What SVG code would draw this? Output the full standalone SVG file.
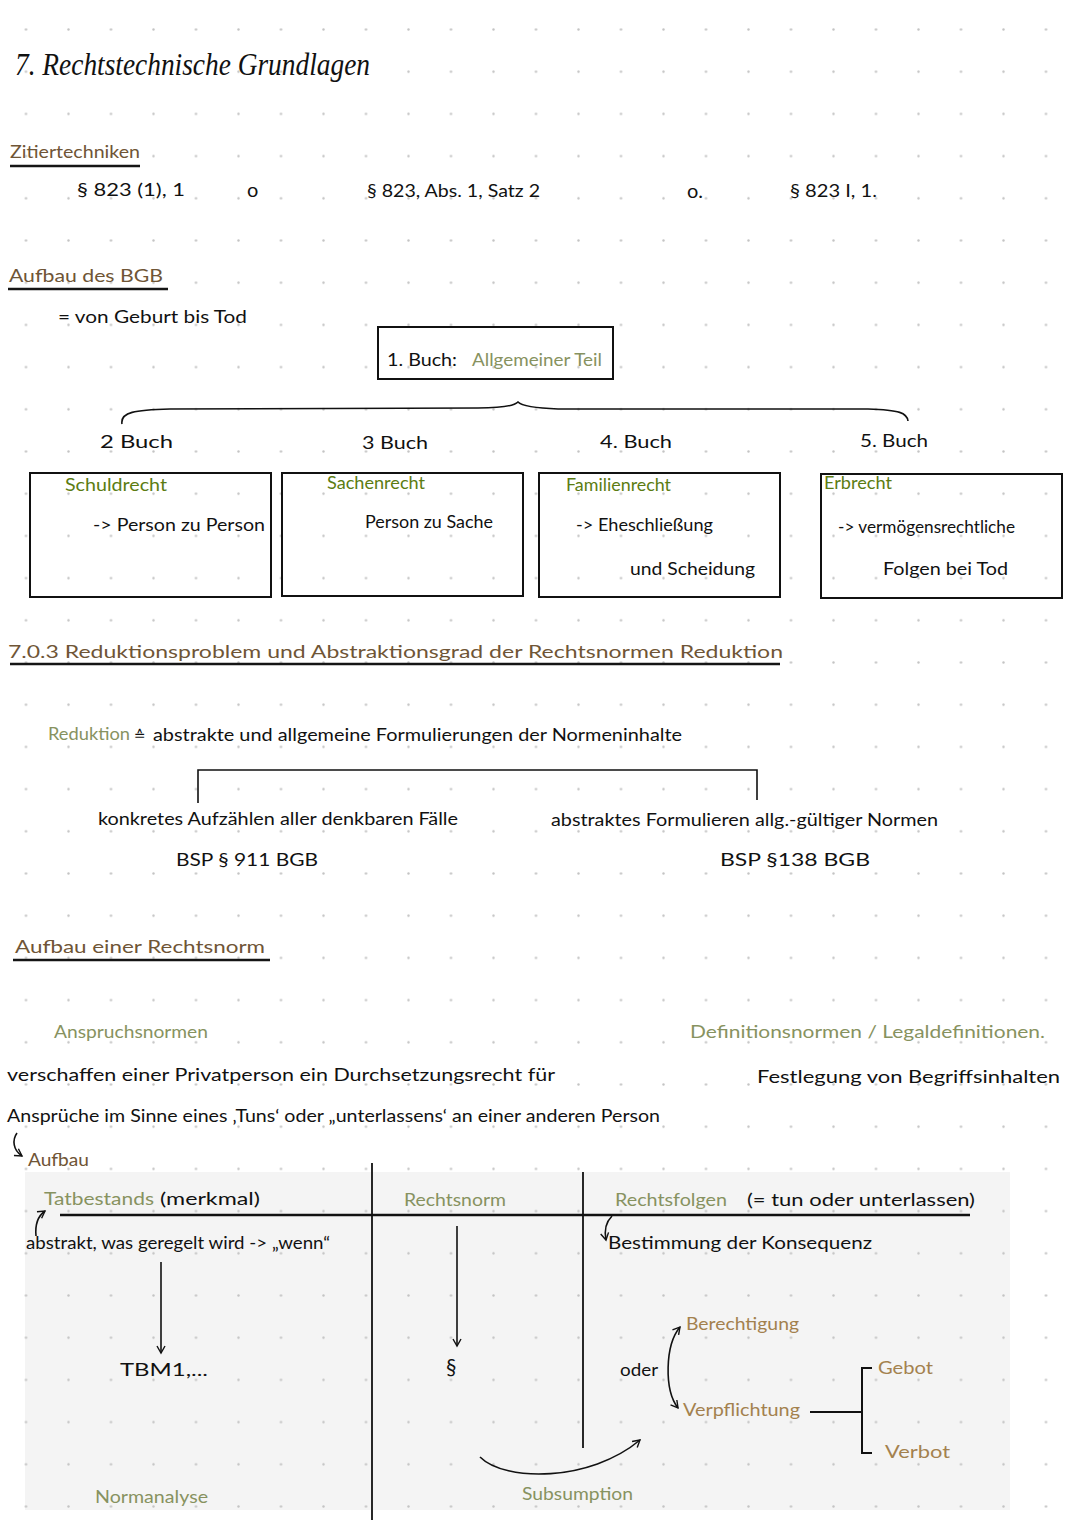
<svg xmlns="http://www.w3.org/2000/svg" width="1080" height="1531" viewBox="0 0 1080 1531">
<defs>
<pattern id="dots" patternUnits="userSpaceOnUse" x="4.75" y="8.4" width="42.5" height="42.2">
<circle cx="21.25" cy="21.1" r="1.2" fill="#c4c4c4"/>
</pattern>
<marker id="arr" markerWidth="10" markerHeight="10" refX="8" refY="5" orient="auto" markerUnits="userSpaceOnUse">
<path d="M1,1 L8,5 L1,9" fill="none" stroke="#111" stroke-width="1.4"/>
</marker>
<marker id="arrs" markerWidth="10" markerHeight="10" refX="1" refY="5" orient="auto" markerUnits="userSpaceOnUse">
<path d="M8,1 L1,5 L8,9" fill="none" stroke="#111" stroke-width="1.4"/>
</marker>
</defs>
<style>
text{font-family:Lato,"Open Sans","Liberation Sans",sans-serif;font-size:17px;fill:#111}
.h{fill:#6f5536}
.g{fill:#5c7c12}
.o{fill:#879260}
.t{fill:#a3814e}
.box{fill:none;stroke:#111;stroke-width:2}
.ln{fill:none;stroke:#111;stroke-width:1.6}
.ul{fill:none;stroke:#151515;stroke-width:2.6}
.title{font-family:"Liberation Serif","DejaVu Serif",serif;font-style:italic;font-size:32px}
</style>
<rect width="1080" height="1531" fill="#ffffff"/>
<rect x="25" y="1172" width="985" height="338" fill="#f4f4f4"/>
<rect width="1080" height="1531" fill="url(#dots)"/>

<g id="title"><text class="title" x="15" y="75" textLength="355" lengthAdjust="spacingAndGlyphs">7. Rechtstechnische Grundlagen</text></g>

<g id="zitiertechniken">
<text class="h" x="10" y="158" textLength="130" lengthAdjust="spacingAndGlyphs">Zitiertechniken</text>
<line class="ul" x1="10" y1="166" x2="140" y2="166"/>
<text x="77" y="196" textLength="108" lengthAdjust="spacingAndGlyphs">§ 823 (1), 1</text>
<text x="247" y="197" style="font-size:20px">o</text>
<text x="367" y="197" textLength="173" lengthAdjust="spacingAndGlyphs">§ 823, Abs. 1, Satz 2</text>
<text x="687" y="198" style="font-size:20px">o.</text>
<text x="790" y="197" textLength="87" lengthAdjust="spacingAndGlyphs">§ 823 I, 1.</text>
</g>

<g id="aufbau-bgb">
<text class="h" x="9" y="282" textLength="154" lengthAdjust="spacingAndGlyphs">Aufbau des BGB</text>
<line class="ul" x1="8" y1="289" x2="168" y2="289"/>
<text x="58" y="323" textLength="189" lengthAdjust="spacingAndGlyphs">= von Geburt bis Tod</text>
</g>

<g id="buch1">
<rect class="box" x="378" y="327" width="235" height="52"/>
<text x="387" y="366" textLength="70" lengthAdjust="spacingAndGlyphs">1. Buch:</text>
<text x="472" y="366" class="o" textLength="130" lengthAdjust="spacingAndGlyphs">Allgemeiner Teil</text>
</g>

<g id="buch2">
<text x="100" y="448" textLength="73" lengthAdjust="spacingAndGlyphs">2 Buch</text>
<rect class="box" x="30" y="473" width="241" height="124"/>
<text class="g" x="65" y="491" textLength="102" lengthAdjust="spacingAndGlyphs">Schuldrecht</text>
<text x="93" y="531" textLength="172" lengthAdjust="spacingAndGlyphs">-&gt; Person zu Person</text>
</g>
<g id="buch3">
<text x="362" y="449" textLength="66" lengthAdjust="spacingAndGlyphs">3 Buch</text>
<rect class="box" x="282" y="473" width="241" height="123"/>
<text class="g" x="327" y="489" textLength="98" lengthAdjust="spacingAndGlyphs">Sachenrecht</text>
<text x="365" y="528" textLength="128" lengthAdjust="spacingAndGlyphs">Person zu Sache</text>
</g>
<g id="buch4">
<text x="600" y="448" textLength="72" lengthAdjust="spacingAndGlyphs">4. Buch</text>
<rect class="box" x="539" y="473" width="241" height="124"/>
<text class="g" x="566" y="491" textLength="105" lengthAdjust="spacingAndGlyphs">Familienrecht</text>
<text x="576" y="531" textLength="137" lengthAdjust="spacingAndGlyphs">-&gt; Eheschließung</text>
<text x="630" y="575" textLength="125" lengthAdjust="spacingAndGlyphs">und Scheidung</text>
</g>
<g id="buch5">
<text x="860" y="447" textLength="68" lengthAdjust="spacingAndGlyphs">5. Buch</text>
<rect class="box" x="821" y="474" width="241" height="124"/>
<text class="g" x="824" y="489" textLength="68" lengthAdjust="spacingAndGlyphs">Erbrecht</text>
<text x="838" y="533" textLength="177" lengthAdjust="spacingAndGlyphs">-&gt; vermögensrechtliche</text>
<text x="883" y="575" textLength="125" lengthAdjust="spacingAndGlyphs">Folgen bei Tod</text>
</g>

<g id="reduktion">
<text class="h" x="8" y="658" textLength="775" lengthAdjust="spacingAndGlyphs">7.0.3 Reduktionsproblem und Abstraktionsgrad der Rechtsnormen Reduktion</text>
<line class="ul" x1="10" y1="664" x2="780" y2="664"/>
<text class="o" x="48" y="740" textLength="82" lengthAdjust="spacingAndGlyphs">Reduktion</text>
<text x="134" y="740" style="font-family:'DejaVu Sans',sans-serif;font-size:14px">≙</text>
<text x="153" y="741" textLength="529" lengthAdjust="spacingAndGlyphs">abstrakte und allgemeine Formulierungen der Normeninhalte</text>
<text x="98" y="825" textLength="360" lengthAdjust="spacingAndGlyphs">konkretes Aufzählen aller denkbaren Fälle</text>
<text x="176" y="866" textLength="142" lengthAdjust="spacingAndGlyphs">BSP § 911 BGB</text>
<text x="551" y="826" textLength="387" lengthAdjust="spacingAndGlyphs">abstraktes Formulieren allg.-gültiger Normen</text>
<text x="720" y="866" textLength="150" lengthAdjust="spacingAndGlyphs">BSP §138  BGB</text>
</g>

<g id="aufbau-rechtsnorm">
<text class="h" x="15" y="953" textLength="250" lengthAdjust="spacingAndGlyphs">Aufbau einer Rechtsnorm</text>
<line class="ul" x1="13" y1="960" x2="270" y2="960"/>
<text class="o" x="54" y="1038" textLength="154" lengthAdjust="spacingAndGlyphs">Anspruchsnormen</text>
<text x="7" y="1081" textLength="548" lengthAdjust="spacingAndGlyphs">verschaffen einer Privatperson ein Durchsetzungsrecht für</text>
<text x="7" y="1122" textLength="653" lengthAdjust="spacingAndGlyphs">Ansprüche im Sinne eines ‚Tuns‘ oder „unterlassens‘ an einer anderen Person</text>
<text class="o" x="690" y="1038" textLength="355" lengthAdjust="spacingAndGlyphs">Definitionsnormen / Legaldefinitionen.</text>
<text x="757" y="1083" textLength="303" lengthAdjust="spacingAndGlyphs">Festlegung von Begriffsinhalten</text>
<text class="h" x="28" y="1166" textLength="61" lengthAdjust="spacingAndGlyphs">Aufbau</text>
</g>

<g id="tatbestand">
<text class="o" x="44" y="1205" textLength="110" lengthAdjust="spacingAndGlyphs">Tatbestands</text>
<text x="160" y="1205" textLength="100" lengthAdjust="spacingAndGlyphs">(merkmal)</text>
<text x="26" y="1249" textLength="304" lengthAdjust="spacingAndGlyphs">abstrakt, was geregelt wird -&gt; „wenn“</text>
<text x="120" y="1376" textLength="88" lengthAdjust="spacingAndGlyphs">TBM1,...</text>
<text class="o" x="95" y="1503" textLength="113" lengthAdjust="spacingAndGlyphs">Normanalyse</text>
</g>
<g id="rechtsnorm">
<text class="o" x="404" y="1206" textLength="102" lengthAdjust="spacingAndGlyphs">Rechtsnorm</text>
<text x="446" y="1374" style="font-size:21px">§</text>
<text class="o" x="522" y="1500" textLength="111" lengthAdjust="spacingAndGlyphs">Subsumption</text>
</g>
<g id="rechtsfolgen">
<text class="o" x="615" y="1206" textLength="112" lengthAdjust="spacingAndGlyphs">Rechtsfolgen</text>
<text x="747" y="1206" textLength="228" lengthAdjust="spacingAndGlyphs">(= tun oder unterlassen)</text>
<text x="608" y="1249" textLength="264" lengthAdjust="spacingAndGlyphs">Bestimmung der Konsequenz</text>
<text class="t" x="686" y="1330" textLength="113" lengthAdjust="spacingAndGlyphs">Berechtigung</text>
<text x="620" y="1376" textLength="38" lengthAdjust="spacingAndGlyphs">oder</text>
<text class="t" x="683" y="1416" textLength="117" lengthAdjust="spacingAndGlyphs">Verpflichtung</text>
<text class="t" x="878" y="1374" textLength="55" lengthAdjust="spacingAndGlyphs">Gebot</text>
<text class="t" x="885" y="1458" textLength="65" lengthAdjust="spacingAndGlyphs">Verbot</text>
</g>

<g id="connectors">
<path class="ln" d="M122,424 C120,412 135,410 170,409 L478,408 C503,408 514,406 518,402 C522,406 533,408 558,409 L868,409 C900,410 907,413 908,421"/>
<path class="ln" d="M198,803 L198,770 L757,770 L757,800"/>
<path class="ln" d="M17,1133 C12,1140 13,1150 22,1156" marker-end="url(#arr)"/>
<line x1="372" y1="1163" x2="372" y2="1520" stroke="#111" stroke-width="1.8"/>
<line x1="583" y1="1172" x2="583" y2="1448" stroke="#111" stroke-width="1.8"/>
<line x1="60" y1="1215" x2="970" y2="1215" stroke="#111" stroke-width="2.6"/>
<path class="ln" d="M36,1236 C35,1225 38,1216 45,1211" marker-end="url(#arr)"/>
<line class="ln" x1="161" y1="1262" x2="161" y2="1353" marker-end="url(#arr)"/>
<line class="ln" x1="457" y1="1226" x2="457" y2="1346" marker-end="url(#arr)"/>
<path class="ln" d="M612,1216 C606,1222 604,1230 606,1240" marker-end="url(#arr)"/>
<path class="ln" d="M680,1327 C665,1345 664,1390 678,1408" marker-start="url(#arrs)" marker-end="url(#arr)"/>
<path class="ln" d="M480,1457 C505,1482 590,1482 640,1440" marker-end="url(#arr)"/>
<line x1="810" y1="1412" x2="862" y2="1412" stroke="#111" stroke-width="2"/>
<path d="M872,1368 L862,1368 L862,1453 L872,1453" fill="none" stroke="#111" stroke-width="2"/>
</g>
</svg>
